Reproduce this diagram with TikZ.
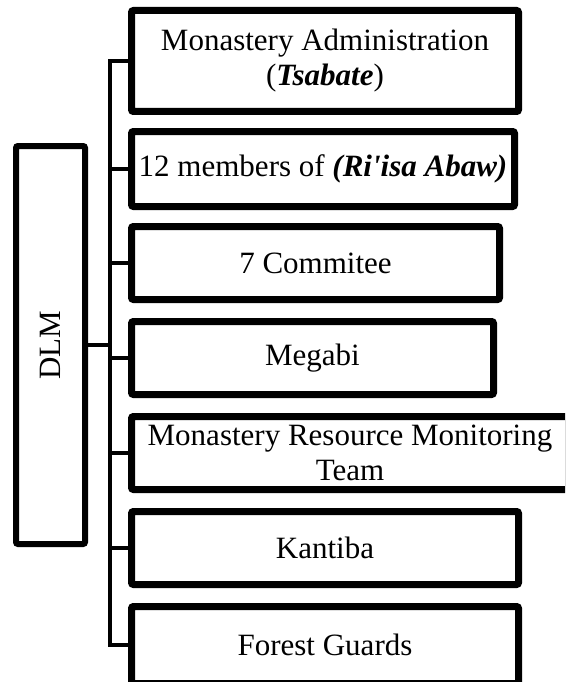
\documentclass[tikz,border=0pt]{standalone}
\usepackage{fontspec}
\setmainfont{Liberation Serif}
\usetikzlibrary{shadows}

\begin{document}
\begin{tikzpicture}[x=1pt,y=-1pt,
		caja/.style={draw, line width=7pt, rounded corners=2pt, fill=white, align=center, inner sep=0pt,
			font=\fontsize{31}{35}\selectfont,
			drop shadow={shadow xshift=2pt, shadow yshift=-2pt, fill=black!30}},
		rama/.style={line width=4pt}]
		\useasboundingbox (0,0) rectangle (565,682);
		\clip (0,0) rectangle (565,682);

		%Cajas
		\node [caja, line width=6pt, minimum width=69pt, minimum height=398pt] (dlm) at (50.5,345) {\rotatebox{90}{DLM}};
		\node [caja, minimum width=387pt, minimum height=101pt] (admin) at (325,61) {Monastery Administration\\(\textbf{\textit{Tsabate}})};
		\node [caja, minimum width=383pt, minimum height=75pt] (members) at (323,169) {12 members of \textbf{\textit{(Ri\textquotesingle isa Abaw)}}};
		\node [caja, minimum width=368pt, minimum height=73pt] (comite) at (315.5,263) {7 Commitee};
		\node [caja, minimum width=362pt, minimum height=73pt] (megabi) at (312.5,358) {Megabi};
		\node [caja, minimum width=437pt, minimum height=73pt] (team) at (350,453) {Monastery Resource Monitoring\\Team};
		\node [caja, minimum width=387pt, minimum height=73pt] (kantiba) at (325,548) {Kantiba};
		\node [caja, minimum width=387pt, minimum height=77pt] (guards) at (325,645) {Forest Guards};

		%Lineas
		\coordinate (eje) at (110,0);
		\draw [rama] (admin.west) -- (admin.west -| eje) -- (guards.west -| eje) -- (guards.west);
		\draw [rama] (dlm.east) -- (dlm.east -| eje);
		\foreach \n in {members,comite,megabi,team,kantiba}
			\draw [rama] (\n.west -| eje) -- (\n.west);
	\end{tikzpicture}
\end{document}
